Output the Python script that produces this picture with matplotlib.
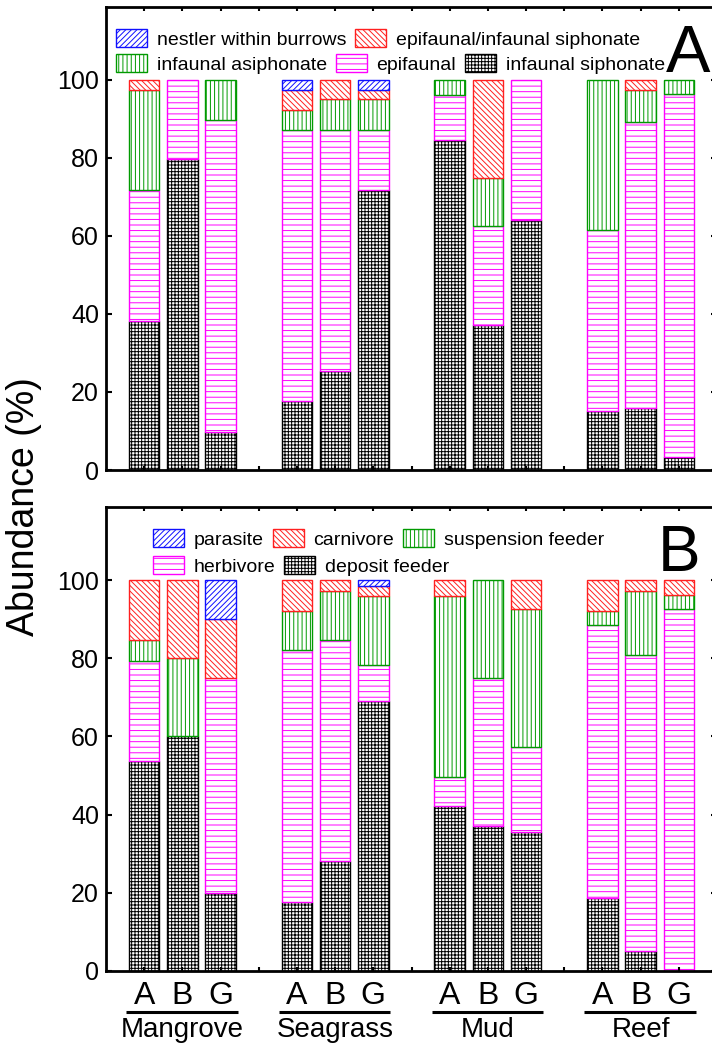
import numpy as np
import matplotlib
matplotlib.use('Agg')
import matplotlib.pyplot as plt
import matplotlib.transforms as mtransforms
from matplotlib.patches import Patch

plt.rcParams['font.family'] = ['Liberation Sans', 'DejaVu Sans']
plt.rcParams['hatch.linewidth'] = 0.7

# ---------------- data ----------------
groups = ['Mangrove', 'Seagrass', 'Mud', 'Reef']
sub_labels = ['A', 'B', 'G']
positions = [1, 2, 3, 5, 6, 7, 9, 10, 11, 13, 14, 15]
group_centers = [2, 6, 10, 14]

# Panel A (life habit), bottom -> top
infaunal_siphonate = [38.1, 79.8, 9.8, 17.6, 25.3, 71.7, 84.7, 37.2, 64.1, 15.2, 16.0, 3.4]
epifaunal = [33.6, 20.2, 80.0, 69.5, 61.8, 15.4, 11.4, 25.4, 35.9, 46.3, 73.1, 93.0]
infaunal_asiphonate = [25.6, 0, 10.2, 5.1, 7.9, 7.9, 3.9, 12.3, 0, 38.5, 8.3, 3.6]
epi_inf_siphonate = [2.7, 0, 0, 5.3, 5.0, 2.5, 0, 25.1, 0, 0, 2.6, 0]
nestler = [0, 0, 0, 2.5, 0, 2.5, 0, 0, 0, 0, 0, 0]

# Panel B (feeding), bottom -> top
deposit_feeder = [53.8, 60.0, 20.0, 17.7, 28.2, 69.0, 42.2, 37.2, 35.5, 18.8, 5.1, 0]
herbivore = [25.4, 0, 55.0, 64.3, 56.5, 9.2, 7.5, 37.8, 21.7, 69.6, 75.8, 92.5]
suspension_feeder = [5.4, 20.0, 0, 10.1, 12.6, 17.7, 46.2, 25.0, 35.4, 3.7, 16.4, 3.8]
carnivore = [15.4, 20.0, 15.0, 7.9, 2.7, 2.7, 4.1, 0, 7.4, 7.9, 2.7, 3.7]
parasite = [0, 0, 10.0, 0, 0, 1.4, 0, 0, 0, 0, 0, 0]

# ---------------- styles ----------------
C_BLACK, C_MAG, C_GREEN, C_RED, C_BLUE = '#000000', '#FF00FF', '#009A00', '#FF2020', '#1010FF'
H_BLACK, H_MAG, H_GREEN, H_RED, H_BLUE = '+++++', '---', '||||', '\\' * 6, '/' * 6

W, H = 712, 1048
fig = plt.figure(figsize=(W / 100, H / 100), dpi=100)


def rect(l, r, t, b):
    return [l / W, 1 - b / H, (r - l) / W, (b - t) / H]


axA = fig.add_axes(rect(106, 717, 7, 470))
axB = fig.add_axes(rect(106, 717, 507, 971))


def draw(ax, series):
    bottom = np.zeros(len(positions))
    for vals, c, h in series:
        vals = np.asarray(vals, dtype=float)
        bc = ax.bar(positions, vals, width=0.8, bottom=bottom, facecolor='white',
                    edgecolor=c, hatch=h, linewidth=1.0)
        for p, v in zip(bc.patches, vals):
            if v <= 0:
                p.set_visible(False)
        bottom += vals


draw(axA, [(infaunal_siphonate, C_BLACK, H_BLACK),
           (epifaunal, C_MAG, H_MAG),
           (infaunal_asiphonate, C_GREEN, H_GREEN),
           (epi_inf_siphonate, C_RED, H_RED),
           (nestler, C_BLUE, H_BLUE)])
draw(axB, [(deposit_feeder, C_BLACK, H_BLACK),
           (herbivore, C_MAG, H_MAG),
           (suspension_feeder, C_GREEN, H_GREEN),
           (carnivore, C_RED, H_RED),
           (parasite, C_BLUE, H_BLUE)])

xtick_labels = []
k = 0
for i in range(1, 16):
    if i in positions:
        xtick_labels.append(sub_labels[k % 3])
        k += 1
    else:
        xtick_labels.append('')

for ax in (axA, axB):
    ax.set_xlim(0, 16)
    ax.set_ylim(0, 118.7)
    ax.set_yticks(range(0, 101, 20))
    ax.set_xticks(range(1, 16))
    ax.tick_params(axis='x', direction='in', top=True, bottom=True, length=3, width=1.5)
    ax.tick_params(axis='y', direction='in', left=True, right=True, length=4, width=1.5,
                   labelsize=18, pad=5)
    for s in ax.spines.values():
        s.set_linewidth(2)

axA.set_xticklabels([''] * 15)
axB.set_xticklabels(xtick_labels)
axB.tick_params(axis='x', labelsize=23, pad=7)


def hp(c, h):
    return Patch(facecolor='white', edgecolor=c, hatch=h, linewidth=1.0)


leg_kw = dict(loc='center left', frameon=False, fontsize=14, handlelength=1.6,
              handleheight=1.0, handletextpad=0.5, columnspacing=0.45,
              borderpad=0, borderaxespad=0)

l1 = axA.legend(handles=[hp(C_BLUE, H_BLUE), hp(C_RED, H_RED)],
                labels=['nestler within burrows', 'epifaunal/infaunal siphonate'],
                ncol=2, bbox_to_anchor=(0.0164, 0.931), **leg_kw)
axA.add_artist(l1)
axA.legend(handles=[hp(C_GREEN, H_GREEN), hp(C_MAG, H_MAG), hp(C_BLACK, H_BLACK)],
           labels=['infaunal asiphonate', 'epifaunal', 'infaunal siphonate'],
           ncol=3, bbox_to_anchor=(0.0164, 0.877), **leg_kw)

l3 = axB.legend(handles=[hp(C_BLUE, H_BLUE), hp(C_RED, H_RED), hp(C_GREEN, H_GREEN)],
                labels=['parasite', 'carnivore', 'suspension feeder'],
                ncol=3, bbox_to_anchor=(0.077, 0.931), **leg_kw)
axB.add_artist(l3)
axB.legend(handles=[hp(C_MAG, H_MAG), hp(C_BLACK, H_BLACK)],
           labels=['herbivore', 'deposit feeder'],
           ncol=2, bbox_to_anchor=(0.077, 0.873), **leg_kw)

# panel letters
fig.text(710 / W, 1 - 72 / H, 'A', ha='right', va='baseline', fontsize=48)
fig.text(700 / W, 1 - 571 / H, 'B', ha='right', va='baseline', fontsize=46)

# y label
fig.text(24 / W, 1 - 507 / H, 'Abundance (%)', rotation=90, ha='center', va='center',
         fontsize=27)

# group underline and names
trans = mtransforms.blended_transform_factory(axB.transData, axB.transAxes)
for g, name in zip(group_centers, groups):
    axB.plot([g - 1.47, g + 1.45], [-0.0873, -0.0873], transform=trans, color='black',
             lw=2.2, clip_on=False, solid_capstyle='butt')
    axB.text(g, -0.142, name, transform=trans, ha='center', va='baseline', fontsize=20)

fig.savefig('out.png', dpi=100)
